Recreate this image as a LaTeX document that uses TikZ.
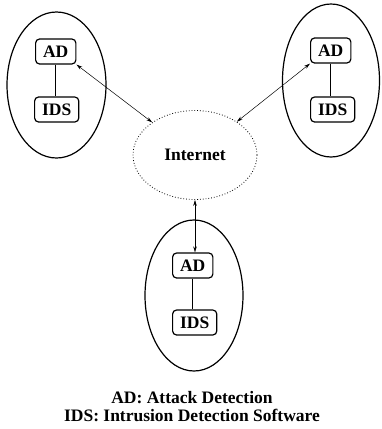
\documentclass[tikz,border=0pt]{standalone}
\usepackage{fontspec}
\setmainfont{Liberation Serif}
\usetikzlibrary{arrows.meta,shapes.geometric}
\begin{document}
\begin{tikzpicture}[x=1pt,y=-1pt,
  every node/.style={font=\fontsize{17.5}{18}\selectfont\bfseries},
  site/.style={draw,line width=1.2pt,ellipse,minimum width=#1},
  unit/.style={draw,line width=1.2pt,rounded corners=4pt,minimum height=25pt,
    inner xsep=7.5pt,inner ysep=0pt,anchor=west},
  cloud/.style={draw,line width=0.8pt,dotted,ellipse},
  link/.style={line width=0.5pt,{Stealth[length=6pt,width=3.5pt]}-{Stealth[length=6pt,width=3.5pt]}},
  wire/.style={line width=1.2pt}]
\useasboundingbox (0,0) rectangle (381,429);

% three sites
\node[site=99pt,minimum height=146pt] (s1) at (56.5,85) {};
\node[site=97pt,minimum height=153pt] (s2) at (331,80.5) {};
\node[site=98pt,minimum height=151pt] (s3) at (194,295.5) {};

% the internet
\node[cloud,minimum width=124pt,minimum height=89pt] (inet) at (195,155) {Internet};

% attack detection and IDS units
\node[unit] (ad1) at (35,51.5) {AD};
\node[unit] (ids1) at (34,109.5) {IDS};
\node[unit] (ad2) at (310,50.5) {AD};
\node[unit] (ids2) at (310,109.5) {IDS};
\node[unit] (ad3) at (172,265.5) {AD};
\node[unit] (ids3) at (172,322.5) {IDS};

\draw[wire] (ad1.south) -- (ad1.south |- ids1.north);
\draw[wire] (ad2.south) -- (ad2.south |- ids2.north);
\draw[wire] (ad3.south) -- (ad3.south |- ids3.north);

% links to the internet
\draw[link] (ad1.south east) -- (inet);
\draw[link] (ad2.south west) -- (inet);
\draw[link] (inet.south) -- (inet.south |- ad3.north);

% legend
\node[anchor=base] (leg1) at (192,403) {AD: Attack Detection};
\node[anchor=base] (leg2) at (192,421) {IDS: Intrusion Detection Software};
\end{tikzpicture}
\end{document}
